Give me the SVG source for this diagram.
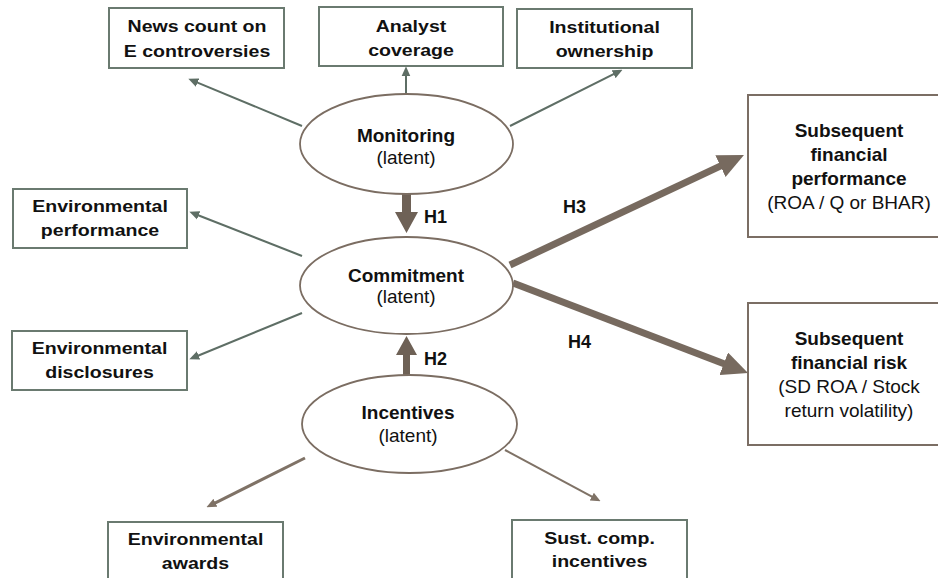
<svg xmlns="http://www.w3.org/2000/svg" width="938" height="578" viewBox="0 0 938 578">
<defs>
<style>
.box{fill:#fff;stroke:#6a7a70;stroke-width:2}
.rbox{fill:#fff;stroke:#7b6e64;stroke-width:2}
.ell{fill:#fff;stroke:#7b6d62;stroke-width:1.8}
.t{font-family:"Liberation Sans",Arial,sans-serif;fill:#111;text-anchor:middle}
.b{font-weight:bold}
.bx{font-size:17px;font-weight:bold}
.rt{font-size:19px}
.et{font-size:19px}
.hl{font-size:18px;font-weight:bold;font-family:"Liberation Sans",Arial,sans-serif;fill:#111}
.thin{stroke:#5e6e65;stroke-width:2;fill:none;marker-end:url(#hg)}
.thinb{stroke:#7f7266;fill:none;marker-end:url(#hb)}
.thick{stroke:#776a5f;stroke-width:7;fill:none;marker-end:url(#hbig)}
</style>
<marker id="hg" markerUnits="userSpaceOnUse" markerWidth="10" markerHeight="10" refX="3" refY="4" orient="auto" viewBox="0 0 9 8"><path d="M0,0 L9,4 L0,8 z" fill="#5e6e65"/></marker>
<marker id="hb" markerUnits="userSpaceOnUse" markerWidth="10" markerHeight="10" refX="3" refY="4" orient="auto" viewBox="0 0 9 8"><path d="M0,0 L9,4 L0,8 z" fill="#7f7266"/></marker>
<marker id="hbig" markerUnits="userSpaceOnUse" markerWidth="26" markerHeight="24" refX="8" refY="12" orient="auto" viewBox="0 0 26 24"><path d="M0,0 L26,12 L0,24 z" fill="#776a5f"/></marker>
</defs>
<rect width="938" height="578" fill="#fff"/>

<g id="connectors">
<line class="thin" x1="302" y1="126" x2="194.5" y2="81.3"/>
<line class="thin" x1="406" y1="94" x2="406" y2="73"/>
<line class="thin" x1="510" y1="126" x2="616.6" y2="72.7"/>
<line class="thin" x1="302" y1="256" x2="195.6" y2="214.2"/>
<line class="thin" x1="302" y1="313" x2="195.5" y2="356.7"/>
<line class="thinb" stroke-width="3" x1="305" y1="458" x2="212.4" y2="504.3"/>
<line class="thinb" stroke-width="2" x1="505" y1="450" x2="594.7" y2="498.2"/>
<polygon points="402,194 411,194 411,212 418,212 406.5,233 395,212 402,212" fill="#6e6156"/>
<polygon points="403,376 410,376 410,355 417,355 406.5,336 396,355 403,355" fill="#6e6156"/>
<line class="thick" x1="510" y1="265" x2="727.7" y2="162.7"/>
<line class="thick" x1="513" y1="283" x2="731.2" y2="366.6"/>
<text class="hl" x="424" y="223">H1</text>
<text class="hl" x="424" y="365">H2</text>
<text class="hl" x="563" y="213">H3</text>
<text class="hl" x="568" y="348">H4</text>
</g>

<g id="monitoring">
<ellipse class="ell" cx="406.5" cy="144" rx="106.5" ry="50"/>
<text class="t b et" x="406" y="142">Monitoring</text>
<text class="t et" x="406" y="164">(latent)</text>
</g>
<g id="commitment">
<ellipse class="ell" cx="406.5" cy="285.5" rx="106.5" ry="48.5"/>
<text class="t b et" x="406" y="282">Commitment</text>
<text class="t et" x="406" y="303">(latent)</text>
</g>
<g id="incentives">
<ellipse class="ell" cx="409.5" cy="424" rx="107.5" ry="49"/>
<text class="t b et" x="408" y="419">Incentives</text>
<text class="t et" x="408" y="442">(latent)</text>
</g>

<g id="news">
<rect class="box" x="109" y="8" width="175" height="60"/>
<g transform="translate(197,0) scale(1.15,1)"><text class="t bx" x="0" y="32">News count on</text><text class="t bx" x="0" y="57">E controversies</text></g>
</g>
<g id="analyst">
<rect class="box" x="319" y="7" width="184" height="59"/>
<g transform="translate(411,0) scale(1.15,1)"><text class="t bx" x="0" y="32">Analyst</text><text class="t bx" x="0" y="56">coverage</text></g>
</g>
<g id="institutional">
<rect class="box" x="517" y="9" width="175" height="59"/>
<g transform="translate(604.5,0) scale(1.15,1)"><text class="t bx" x="0" y="33">Institutional</text><text class="t bx" x="0" y="57">ownership</text></g>
</g>
<g id="envperf">
<rect class="box" x="13" y="189" width="174" height="59"/>
<g transform="translate(100,0) scale(1.15,1)"><text class="t bx" x="0" y="212">Environmental</text><text class="t bx" x="0" y="236">performance</text></g>
</g>
<g id="envdisc">
<rect class="box" x="12" y="331" width="175" height="59"/>
<g transform="translate(99.5,0) scale(1.15,1)"><text class="t bx" x="0" y="354">Environmental</text><text class="t bx" x="0" y="378">disclosures</text></g>
</g>
<g id="awards">
<rect class="box" x="108" y="522" width="175" height="70"/>
<g transform="translate(195.5,0) scale(1.15,1)"><text class="t bx" x="0" y="545">Environmental</text><text class="t bx" x="0" y="569">awards</text></g>
</g>
<g id="sustcomp">
<rect class="box" x="512" y="520" width="175" height="72"/>
<g transform="translate(599.5,0) scale(1.15,1)"><text class="t bx" x="0" y="544">Sust. comp.</text><text class="t bx" x="0" y="567">incentives</text></g>
</g>
<g id="perf">
<rect class="rbox" x="748" y="95" width="220" height="142"/>
<text class="t b rt" x="849" y="137">Subsequent</text>
<text class="t b rt" x="849" y="161">financial</text>
<text class="t b rt" x="849" y="185">performance</text>
<text class="t rt" x="849" y="209">(ROA / Q or BHAR)</text>
</g>
<g id="risk">
<rect class="rbox" x="748" y="303" width="220" height="142"/>
<text class="t b rt" x="849" y="345">Subsequent</text>
<text class="t b rt" x="849" y="369">financial risk</text>
<text class="t rt" x="849" y="393">(SD ROA / Stock</text>
<text class="t rt" x="849" y="417">return volatility)</text>
</g>
</svg>
